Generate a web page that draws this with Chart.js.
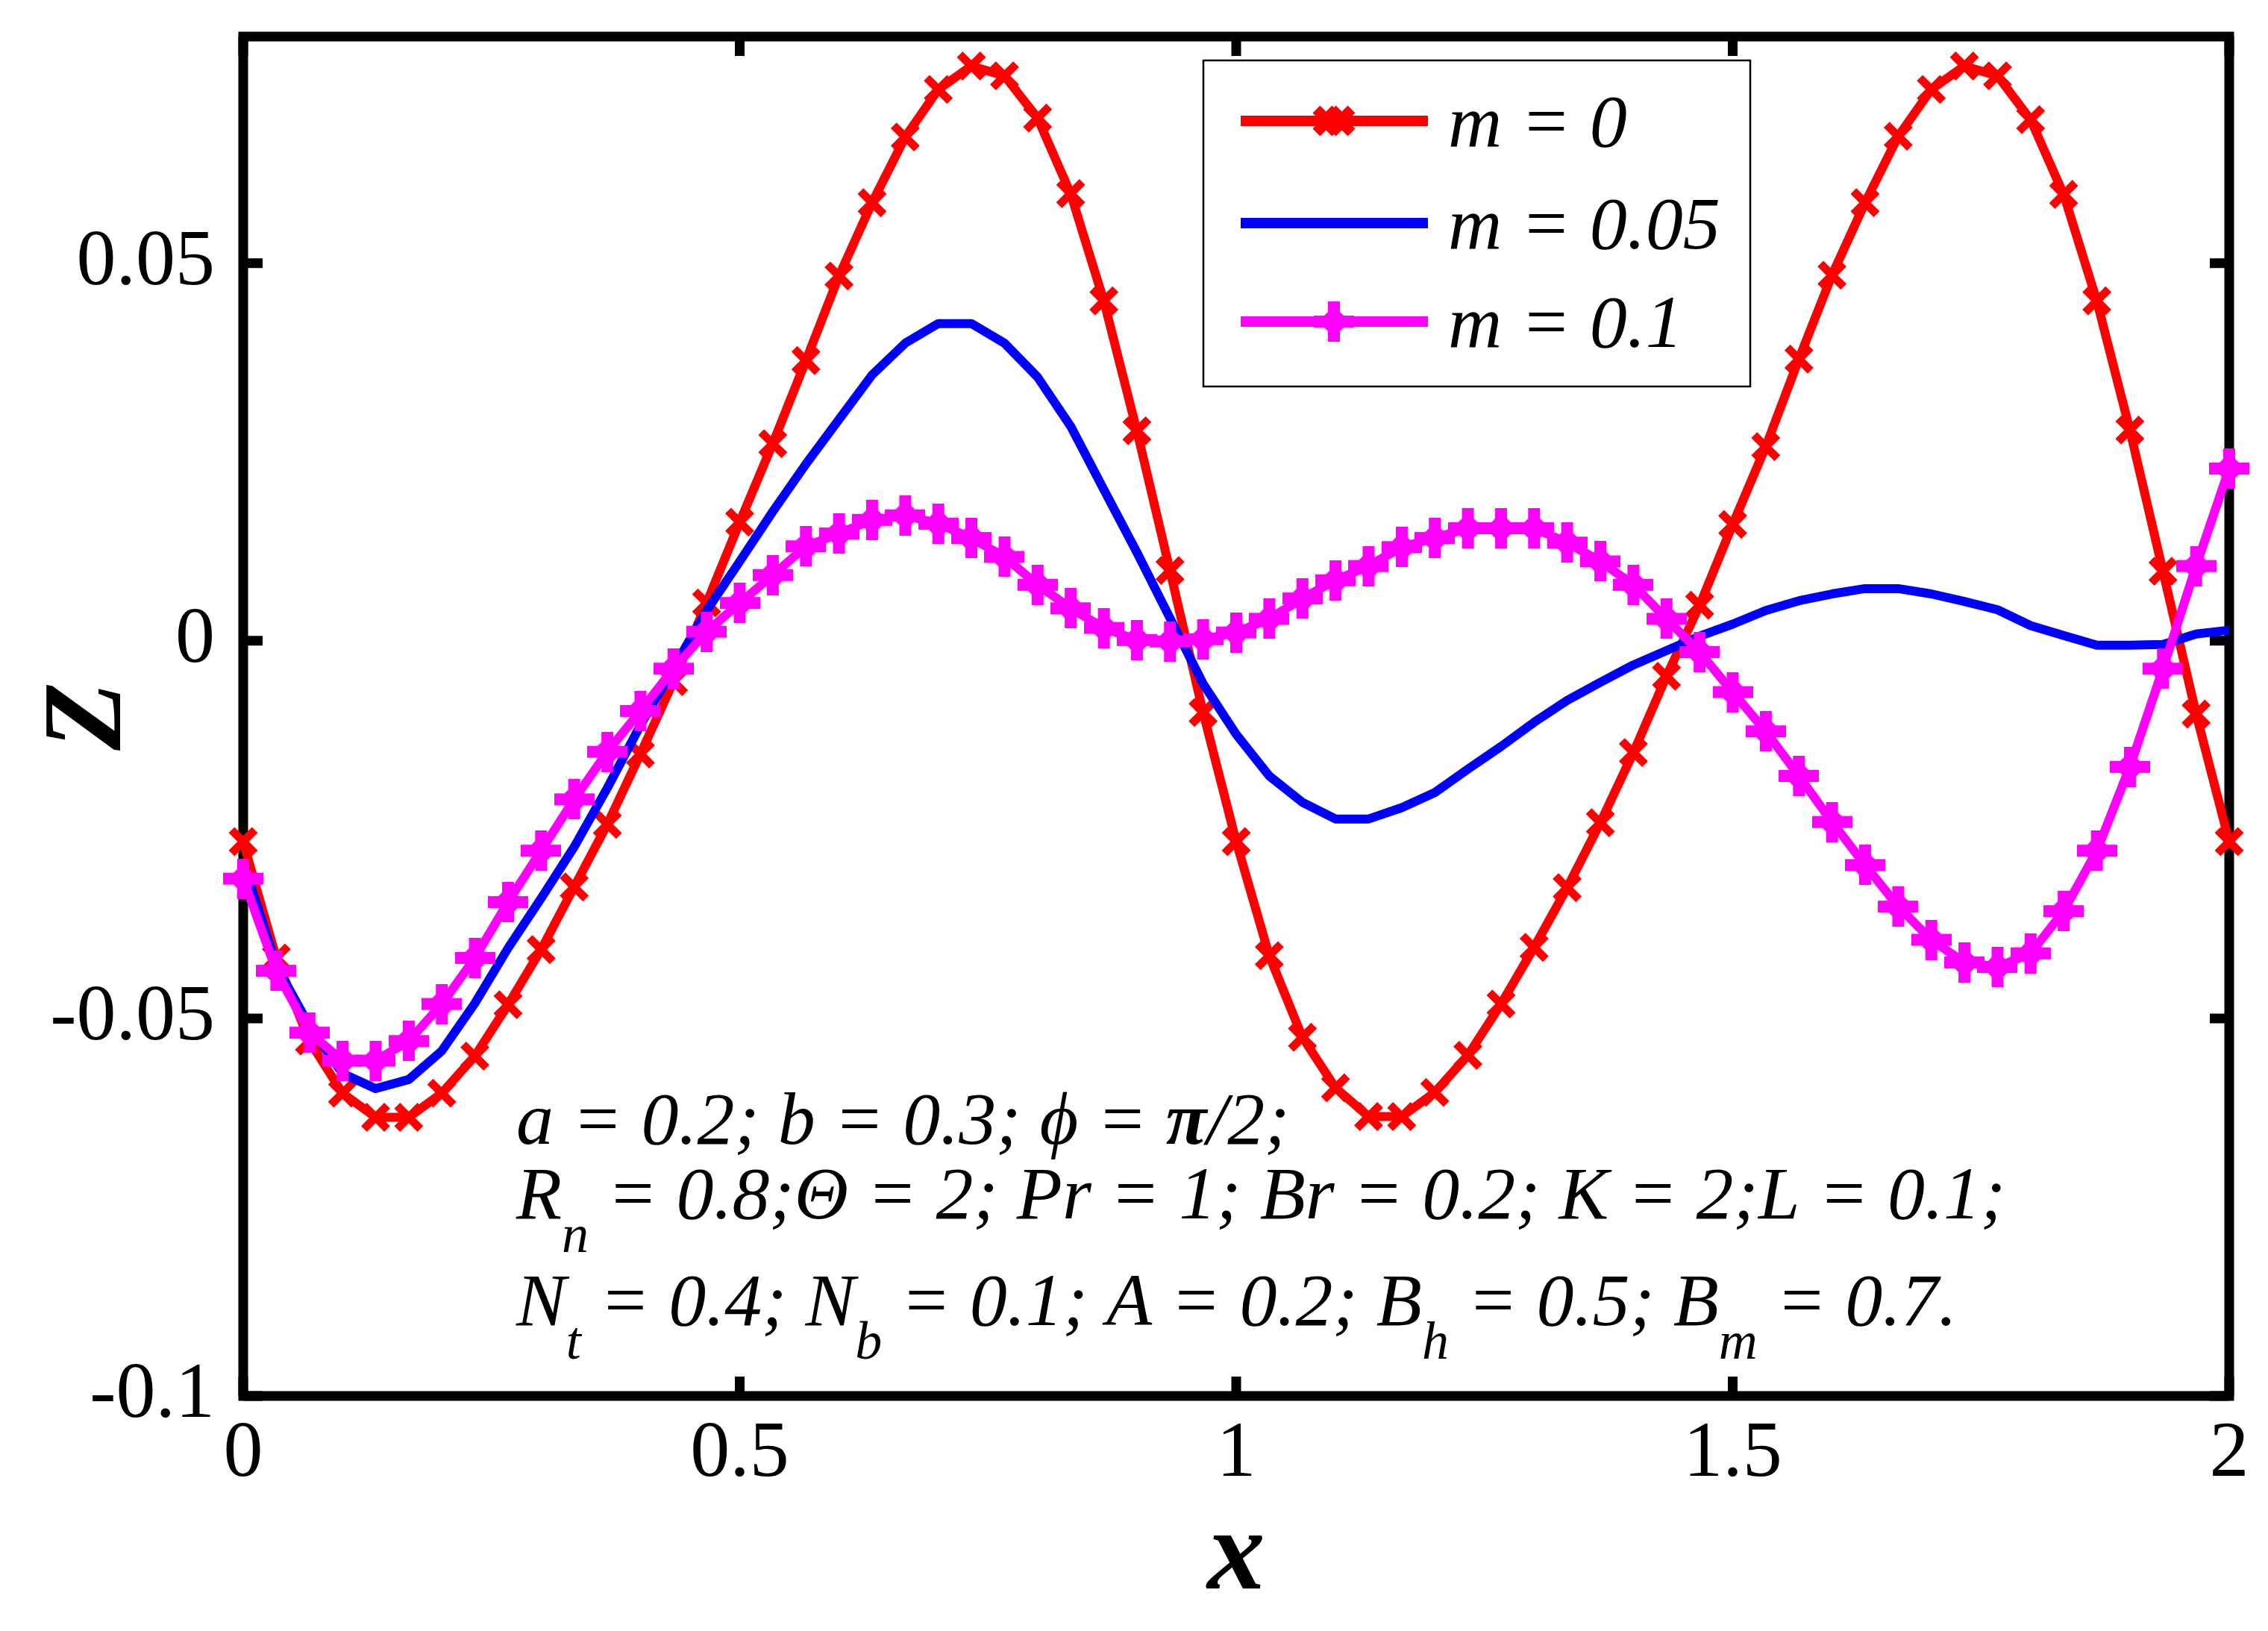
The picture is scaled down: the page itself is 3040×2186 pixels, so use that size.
<!DOCTYPE html>
<html>
<head>
<meta charset="utf-8">
<title>Z vs x</title>
<script src="https://cdn.jsdelivr.net/npm/chart.js@4.4.0/dist/chart.umd.min.js"></script>
<style>
  html, body { margin: 0; padding: 0; background: #fff; overflow: hidden; }
  canvas { display: block; }
</style>
</head>
<body>
<canvas id="zChart" width="3040" height="2186" style="width:3040px;height:2186px"></canvas>
<script>
const xValues = [0, 0.0333, 0.0667, 0.1, 0.1333, 0.1667, 0.2, 0.2333, 0.2667, 0.3,
  0.3333, 0.3667, 0.4, 0.4333, 0.4667, 0.5, 0.5333, 0.5667, 0.6, 0.6333,
  0.6667, 0.7, 0.7333, 0.7667, 0.8, 0.8333, 0.8667, 0.9, 0.9333, 0.9667,
  1, 1.0333, 1.0667, 1.1, 1.1333, 1.1667, 1.2, 1.2333, 1.2667, 1.3,
  1.3333, 1.3667, 1.4, 1.4333, 1.4667, 1.5, 1.5333, 1.5667, 1.6, 1.6333,
  1.6667, 1.7, 1.7333, 1.7667, 1.8, 1.8333, 1.8667, 1.9, 1.9333, 1.9667, 2];

// m = 0
const zM0 = [-0.0266, -0.0420, -0.0530, -0.0599, -0.0631, -0.0631, -0.0599, -0.0550, -0.0482, -0.0409,
  -0.0326, -0.0243, -0.0150, -0.0054, 0.0050, 0.0157, 0.0261, 0.0371, 0.0483, 0.0580,
  0.0667, 0.0730, 0.0761, 0.0748, 0.0692, 0.0592, 0.0450, 0.0278, 0.0093, -0.0095,
  -0.0266, -0.0417, -0.0525, -0.0592, -0.0630, -0.0630, -0.0598, -0.0549, -0.0481, -0.0406,
  -0.0327, -0.0241, -0.0148, -0.0047, 0.0047, 0.0154, 0.0257, 0.0373, 0.0484, 0.0580,
  0.0668, 0.0730, 0.0761, 0.0748, 0.0690, 0.0591, 0.0450, 0.0279, 0.0092, -0.0097, -0.0266];

// m = 0.05
const zM005 = [-0.0293, -0.0430, -0.0510, -0.0573, -0.0593, -0.0581, -0.0543, -0.0480, -0.0407, -0.0341,
  -0.0273, -0.0195, -0.0112, -0.0036, 0.0040, 0.0105, 0.0171, 0.0234, 0.0293, 0.0352,
  0.0394, 0.0420, 0.0420, 0.0394, 0.0349, 0.0284, 0.0200, 0.0117, 0.0030, -0.0057,
  -0.0124, -0.0179, -0.0214, -0.0236, -0.0236, -0.0221, -0.0201, -0.0170, -0.0140, -0.0108,
  -0.0079, -0.0055, -0.0032, -0.0013, 0.0006, 0.0022, 0.0040, 0.0053, 0.0062, 0.0069,
  0.0069, 0.0062, 0.0052, 0.0041, 0.0020, 0.0007, -0.0006, -0.0006, -0.0005, 0.0009, 0.0014];

// m = 0.1
const zM01 = [-0.0315, -0.0437, -0.0519, -0.0556, -0.0556, -0.0530, -0.0481, -0.0420, -0.0346, -0.0278,
  -0.0210, -0.0147, -0.0093, -0.0037, 0.0012, 0.0050, 0.0087, 0.0125, 0.0142, 0.0160,
  0.0166, 0.0155, 0.0136, 0.0111, 0.0074, 0.0043, 0.0017, 0.0001, -0.0001, 0.0002,
  0.0011, 0.0029, 0.0056, 0.0080, 0.0099, 0.0124, 0.0136, 0.0149, 0.0149, 0.0149,
  0.0130, 0.0105, 0.0074, 0.0029, -0.0015, -0.0068, -0.0120, -0.0179, -0.0240, -0.0297,
  -0.0352, -0.0396, -0.0426, -0.0432, -0.0414, -0.0358, -0.0278, -0.0167, -0.0037, 0.0099, 0.0228];

const seriesLabels = ['m = 0', 'm = 0.05', 'm = 0.1'];
const xTicks = [0, 0.5, 1, 1.5, 2];
const xTickLabels = ['0', '0.5', '1', '1.5', '2'];
const yTicks = [-0.1, -0.05, 0, 0.05];
const yTickLabels = ['-0.1', '-0.05', '0', '0.05'];

const SERIF = "'Liberation Serif', 'Times New Roman', serif";
const RED = '#ff0000', BLUE = '#0000ff', MAGENTA = '#ff00ff';

// thick plus marker with a diamond core, like the m = 0.1 curve
function plusMarker(color) {
  const s = 54, arm = 16, d = 21;
  const c = document.createElement('canvas');
  c.width = s; c.height = s;
  const g = c.getContext('2d');
  g.fillStyle = color;
  g.fillRect(0, (s - arm) / 2, s, arm);
  g.fillRect((s - arm) / 2, 0, arm, s);
  g.beginPath();
  g.moveTo(s / 2, s / 2 - d);
  g.lineTo(s / 2 + d, s / 2);
  g.lineTo(s / 2, s / 2 + d);
  g.lineTo(s / 2 - d, s / 2);
  g.closePath();
  g.fill();
  return c;
}
const magentaMarker = plusMarker(MAGENTA);
const redMarkerOpts = { pointStyle: 'crossRot', radius: 22, borderWidth: 11, rotation: 0 };

const toPoints = ys => xValues.map((x, i) => ({ x: x, y: ys[i] }));

// box, inward ticks on all four sides
const framePlugin = {
  id: 'frame',
  beforeDatasetsDraw(chart) {
    const { ctx, chartArea: a, scales } = chart;
    const len = 26;
    ctx.save();
    ctx.strokeStyle = '#000';
    ctx.lineWidth = 13;
    ctx.beginPath();
    xTicks.forEach(v => {
      const px = scales.x.getPixelForValue(v);
      ctx.moveTo(px, a.bottom); ctx.lineTo(px, a.bottom - len);
      ctx.moveTo(px, a.top); ctx.lineTo(px, a.top + len);
    });
    yTicks.forEach(v => {
      const py = scales.y.getPixelForValue(v);
      ctx.moveTo(a.left, py); ctx.lineTo(a.left + len, py);
      ctx.moveTo(a.right, py); ctx.lineTo(a.right - len, py);
    });
    ctx.stroke();
    ctx.strokeRect(a.left, a.top, a.width, a.height);
    ctx.restore();
  }
};

// legend box and the parameter note
const notePlugin = {
  id: 'note',
  afterDraw(chart) {
    const ctx = chart.ctx;
    ctx.save();

    // legend
    ctx.fillStyle = '#fff';
    ctx.fillRect(1613, 81, 733, 437);
    ctx.strokeStyle = '#000';
    ctx.lineWidth = 2.5;
    ctx.strokeRect(1613, 81, 733, 437);
    const rows = [162, 299, 431];
    const colors = [RED, BLUE, MAGENTA];
    rows.forEach((y, i) => {
      ctx.strokeStyle = colors[i];
      ctx.fillStyle = colors[i];
      ctx.lineWidth = 14;
      ctx.beginPath();
      ctx.moveTo(1663, y);
      ctx.lineTo(1914, y);
      ctx.stroke();
      if (i === 0) {
        [1780, 1796].forEach(mx => Chart.helpers.drawPoint(ctx, redMarkerOpts, mx, y));
      } else if (i === 2) {
        ctx.drawImage(magentaMarker, 1788 - magentaMarker.width / 2, y - magentaMarker.height / 2);
      }
      ctx.fillStyle = '#000';
      ctx.font = 'italic 100px ' + SERIF;
      ctx.textAlign = 'left';
      ctx.textBaseline = 'alphabetic';
      ctx.fillText(seriesLabels[i], 1941, y + 34);
    });

    // parameter note, segments: [text, kind] kind: '' normal, 'b' bold, 's' subscript
    const noteLines = [
      [['a = 0.2; b = 0.3; ϕ = '], ['π', 'b'], ['/2;']],
      [['R'], ['n', 's'], [' = 0.8;Θ = 2; Pr = 1; Br = 0.2; K = 2;L = 0.1;']],
      [['N'], ['t', 's'], [' = 0.4; N'], ['b', 's'], [' = 0.1; A = 0.2; B'], ['h', 's'],
       [' = 0.5; B'], ['m', 's'], [' = 0.7.']]
    ];
    const baselines = [1533, 1633, 1776];
    ctx.fillStyle = '#000';
    noteLines.forEach((segs, li) => {
      let x = 692;
      segs.forEach(([t, kind]) => {
        let y = baselines[li];
        if (kind === 's') { ctx.font = 'italic 72px ' + SERIF; y += 45; }
        else if (kind === 'b') ctx.font = 'italic bold 100px ' + SERIF;
        else ctx.font = 'italic 100px ' + SERIF;
        ctx.fillText(t, x, y);
        x += ctx.measureText(t).width;
      });
    });
    ctx.restore();
  }
};

Chart.defaults.font.family = SERIF;
Chart.defaults.color = '#000';

new Chart(document.getElementById('zChart').getContext('2d'), {
  type: 'line',
  data: {
    datasets: [
      {
        label: seriesLabels[0], data: toPoints(zM0), order: 3,
        borderColor: RED, backgroundColor: RED, borderWidth: 12,
        pointStyle: 'crossRot', pointRadius: 22, pointBorderWidth: 11,
        pointBorderColor: RED, pointBackgroundColor: RED, clip: false
      },
      {
        label: seriesLabels[1], data: toPoints(zM005), order: 2,
        borderColor: BLUE, backgroundColor: BLUE, borderWidth: 12,
        pointRadius: 0, clip: false
      },
      {
        label: seriesLabels[2], data: toPoints(zM01), order: 1,
        borderColor: MAGENTA, backgroundColor: MAGENTA, borderWidth: 12,
        pointStyle: magentaMarker, pointRadius: 27, clip: false
      }
    ]
  },
  options: {
    responsive: false,
    devicePixelRatio: 1,
    animation: false,
    events: [],
    elements: { line: { tension: 0, fill: false, borderJoinStyle: 'round' } },
    layout: { padding: { top: 49, right: 52, bottom: 0, left: 0 } },
    plugins: { legend: { display: false }, tooltip: { enabled: false } },
    scales: {
      x: {
        type: 'linear', min: 0, max: 2,
        afterBuildTicks: s => { s.ticks = xTicks.map(v => ({ value: v })); },
        afterFit: s => { s.height = 315; s.paddingLeft = 0; s.paddingRight = 0; },
        grid: { display: false, drawTicks: false },
        border: { display: false },
        ticks: {
          padding: 16, maxRotation: 0, autoSkip: false,
          font: { size: 106 },
          callback: (v, i) => xTickLabels[i]
        },
        title: {
          display: true, text: 'x',
          font: { size: 155, style: 'italic', weight: 'bold', lineHeight: 1.2 },
          padding: { top: 0, bottom: 4 }
        }
      },
      y: {
        type: 'linear', min: -0.1, max: 0.08,
        afterBuildTicks: s => { s.ticks = yTicks.map(v => ({ value: v })); },
        afterFit: s => { s.width = 326; s.paddingTop = 0; s.paddingBottom = 0; },
        grid: { display: false, drawTicks: false },
        border: { display: false },
        ticks: {
          padding: 38, autoSkip: false,
          font: { size: 106 },
          callback: (v, i) => yTickLabels[i]
        },
        title: {
          display: true, text: 'Z',
          font: { size: 150, style: 'italic', weight: 'bold', lineHeight: 1.2 },
          padding: { top: 32, bottom: 0 }
        }
      }
    }
  },
  plugins: [framePlugin, notePlugin]
});
</script>
</body>
</html>
